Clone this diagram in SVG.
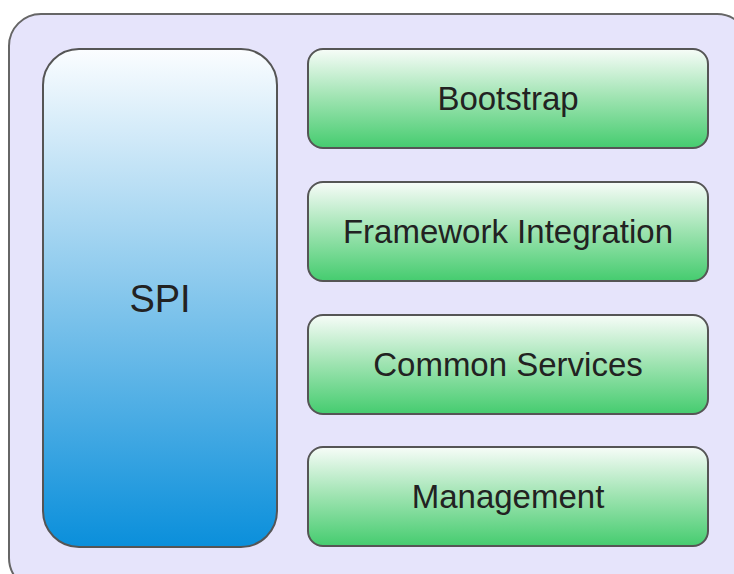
<svg xmlns="http://www.w3.org/2000/svg" width="734" height="574" viewBox="0 0 734 574">
<defs>
<linearGradient id="gG" x1="0" y1="0" x2="0" y2="1">
<stop offset="0" stop-color="#f7fcf8"/>
<stop offset="0.5" stop-color="#9de3b0"/>
<stop offset="1" stop-color="#45cc6f"/>
</linearGradient>
<linearGradient id="gB" x1="0" y1="0" x2="0" y2="1">
<stop offset="0" stop-color="#fbfdff"/>
<stop offset="0.5" stop-color="#84c6ec"/>
<stop offset="1" stop-color="#0a8fdb"/>
</linearGradient>
<style>
.box{stroke:#555;stroke-width:2}
.g{fill:url(#gG)}
.lbl{font-family:"Liberation Sans",Arial,sans-serif;font-size:33px;fill:#222;text-anchor:middle}
</style>
</defs>
<rect x="9" y="14" width="740" height="576" rx="32" fill="#e6e4fb" stroke="#666" stroke-width="2"/>
<g id="spi">
<rect class="box" x="43" y="49" width="234" height="498" rx="36" fill="url(#gB)"/>
<text class="lbl" x="160" y="312" style="font-size:38px">SPI</text>
</g>
<g id="bootstrap">
<rect class="box g" x="308" y="49" width="400" height="99" rx="15"/>
<text class="lbl" x="508" y="110">Bootstrap</text>
</g>
<g id="framework">
<rect class="box g" x="308" y="182" width="400" height="99" rx="15"/>
<text class="lbl" x="508" y="243">Framework Integration</text>
</g>
<g id="common">
<rect class="box g" x="308" y="315" width="400" height="99" rx="15"/>
<text class="lbl" x="508" y="376">Common Services</text>
</g>
<g id="management">
<rect class="box g" x="308" y="447" width="400" height="99" rx="15"/>
<text class="lbl" x="508" y="508">Management</text>
</g>
<g id="connectors"/>
</svg>
